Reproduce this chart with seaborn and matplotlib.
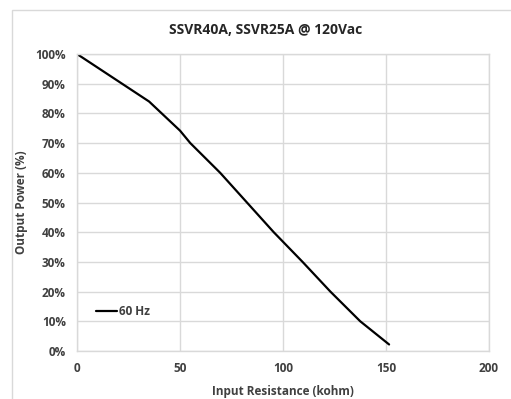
import matplotlib
matplotlib.use("Agg")
import matplotlib.pyplot as plt
import matplotlib.patches as mpatches
from matplotlib.ticker import FuncFormatter, MultipleLocator
import seaborn as sns
import pandas as pd

resistance_kohm = [0, 35, 50, 55, 69.5, 82.5, 95.5, 109.5, 123, 137.5, 151.5]
output_power_pct = [100, 84, 74.2, 70, 60, 50, 40, 30, 20, 10, 2.2]
series_name = "60 Hz"
title = "SSVR40A, SSVR25A @ 120Vac"
xlabel = "Input Resistance (kohm)"
ylabel = "Output Power (%)"

df = pd.DataFrame({"x": resistance_kohm, "y": output_power_pct, "series": series_name})

sns.set_theme(style="white")
plt.rcParams["font.family"] = ["Open Sans", "DejaVu Sans"]

W, H = 511, 399
fig = plt.figure(figsize=(W / 100, H / 100), dpi=100)
ax = fig.add_axes([77 / W, 1 - 351 / H, (489 - 77) / W, (351 - 54) / H])

# chart border
fig.patches.append(mpatches.Rectangle((12 / W, -0.05), 1.2, 1 - 10 / H + 0.05,
                                      transform=fig.transFigure, fill=False,
                                      edgecolor="#d9d9d9", linewidth=1))

sns.lineplot(data=df, x="x", y="y", hue="series", palette=["black"],
             linewidth=1.6, ax=ax, legend=True)

ax.set_xlim(0, 200)
ax.set_ylim(0, 100)
ax.xaxis.set_major_locator(MultipleLocator(50))
ax.yaxis.set_major_locator(MultipleLocator(10))
ax.yaxis.set_major_formatter(FuncFormatter(lambda v, p: f"{int(round(v))}%"))
ax.grid(True, color="#d9d9d9", linewidth=1)
ax.set_axisbelow(True)
for s in ax.spines.values():
    s.set_color("#d9d9d9")
    s.set_linewidth(1)
ax.tick_params(axis="both", length=0, labelsize=8.5, labelcolor="#404040", pad=8)
for lab in ax.get_xticklabels() + ax.get_yticklabels():
    lab.set_fontweight("bold")

ax.set_xlabel(xlabel, fontsize=8.5, fontweight="bold", color="#404040", labelpad=7)
ax.set_ylabel(ylabel, fontsize=8.5, fontweight="bold", color="#404040", labelpad=5)
fig.text(266 / W, 1 - 30 / H, title, ha="center", va="center",
         fontsize=10, fontweight="bold", color="#262626")

leg = ax.legend(loc="lower left", bbox_to_anchor=(0.02, 0.075), frameon=False,
                fontsize=8.5, handlelength=1.8, handletextpad=0.2)
for t in leg.get_texts():
    t.set_fontweight("bold")
    t.set_color("#404040")

fig.savefig("out.png", dpi=100)
